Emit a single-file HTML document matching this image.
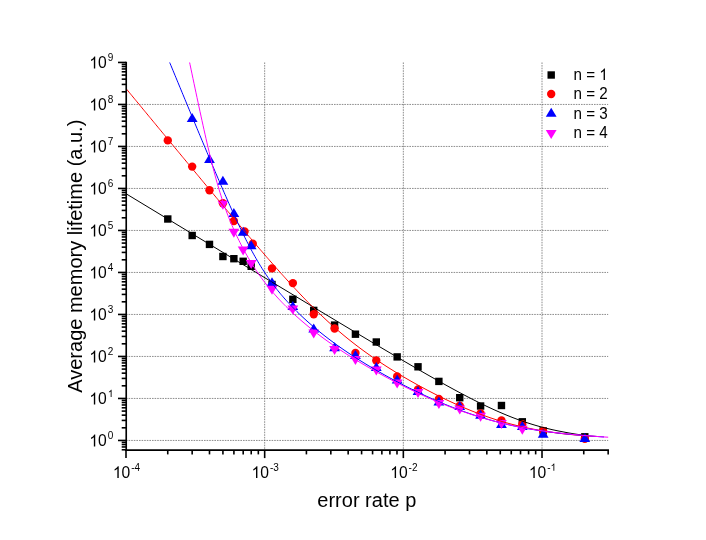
<!DOCTYPE html>
<html><head><meta charset="utf-8"><title>chart</title>
<style>html,body{margin:0;padding:0;background:#fff;width:706px;height:540px;overflow:hidden}body{position:relative;font-family:"Liberation Sans",sans-serif}</style></head>
<body>
<svg width="706" height="540" viewBox="0 0 706 540" style="position:absolute;left:0;top:0;will-change:transform">
<rect width="706" height="540" fill="#fff"/>
<g stroke="#505050" stroke-width="0.65" stroke-dasharray="1.6 1.0" fill="none">
<line x1="126.00" y1="440.45" x2="608.17" y2="440.45"/>
<line x1="126.00" y1="398.45" x2="608.17" y2="398.45"/>
<line x1="126.00" y1="356.45" x2="608.17" y2="356.45"/>
<line x1="126.00" y1="314.45" x2="608.17" y2="314.45"/>
<line x1="126.00" y1="272.45" x2="608.17" y2="272.45"/>
<line x1="126.00" y1="230.45" x2="608.17" y2="230.45"/>
<line x1="126.00" y1="188.45" x2="608.17" y2="188.45"/>
<line x1="126.00" y1="146.45" x2="608.17" y2="146.45"/>
<line x1="126.00" y1="104.45" x2="608.17" y2="104.45"/>
<line x1="264.67" y1="62.45" x2="264.67" y2="450.10"/>
<line x1="403.34" y1="62.45" x2="403.34" y2="450.10"/>
<line x1="542.01" y1="62.45" x2="542.01" y2="450.10"/>
</g>
<rect x="164.09" y="215.30" width="7.4" height="7.4" fill="#000"/>
<rect x="188.48" y="231.80" width="7.4" height="7.4" fill="#000"/>
<rect x="205.79" y="240.70" width="7.4" height="7.4" fill="#000"/>
<rect x="219.21" y="252.80" width="7.4" height="7.4" fill="#000"/>
<rect x="230.17" y="255.00" width="7.4" height="7.4" fill="#000"/>
<rect x="239.45" y="257.60" width="7.4" height="7.4" fill="#000"/>
<rect x="247.48" y="262.60" width="7.4" height="7.4" fill="#000"/>
<rect x="268.30" y="280.80" width="7.4" height="7.4" fill="#000"/>
<rect x="289.16" y="295.60" width="7.4" height="7.4" fill="#000"/>
<rect x="310.02" y="306.70" width="7.4" height="7.4" fill="#000"/>
<rect x="330.88" y="321.40" width="7.4" height="7.4" fill="#000"/>
<rect x="351.74" y="330.50" width="7.4" height="7.4" fill="#000"/>
<rect x="372.60" y="338.30" width="7.4" height="7.4" fill="#000"/>
<rect x="393.46" y="353.20" width="7.4" height="7.4" fill="#000"/>
<rect x="414.32" y="363.10" width="7.4" height="7.4" fill="#000"/>
<rect x="435.18" y="377.70" width="7.4" height="7.4" fill="#000"/>
<rect x="456.04" y="394.00" width="7.4" height="7.4" fill="#000"/>
<rect x="476.90" y="402.30" width="7.4" height="7.4" fill="#000"/>
<rect x="497.76" y="401.80" width="7.4" height="7.4" fill="#000"/>
<rect x="518.62" y="418.10" width="7.4" height="7.4" fill="#000"/>
<rect x="539.48" y="427.20" width="7.4" height="7.4" fill="#000"/>
<rect x="581.10" y="433.10" width="7.4" height="7.4" fill="#000"/>
<circle cx="167.79" cy="140.40" r="4.2" fill="#f00"/>
<circle cx="192.18" cy="166.60" r="4.2" fill="#f00"/>
<circle cx="209.49" cy="190.20" r="4.2" fill="#f00"/>
<circle cx="222.91" cy="203.20" r="4.2" fill="#f00"/>
<circle cx="233.87" cy="221.00" r="4.2" fill="#f00"/>
<circle cx="244.55" cy="231.50" r="4.2" fill="#f00"/>
<circle cx="252.78" cy="243.80" r="4.2" fill="#f00"/>
<circle cx="272.00" cy="268.40" r="4.2" fill="#f00"/>
<circle cx="292.86" cy="283.10" r="4.2" fill="#f00"/>
<circle cx="313.72" cy="314.20" r="4.2" fill="#f00"/>
<circle cx="334.58" cy="328.50" r="4.2" fill="#f00"/>
<circle cx="355.44" cy="353.00" r="4.2" fill="#f00"/>
<circle cx="376.30" cy="360.50" r="4.2" fill="#f00"/>
<circle cx="397.16" cy="376.50" r="4.2" fill="#f00"/>
<circle cx="418.02" cy="389.40" r="4.2" fill="#f00"/>
<circle cx="438.88" cy="398.90" r="4.2" fill="#f00"/>
<circle cx="459.74" cy="405.80" r="4.2" fill="#f00"/>
<circle cx="480.60" cy="413.50" r="4.2" fill="#f00"/>
<circle cx="501.46" cy="420.40" r="4.2" fill="#f00"/>
<circle cx="522.32" cy="424.10" r="4.2" fill="#f00"/>
<circle cx="543.18" cy="430.90" r="4.2" fill="#f00"/>
<circle cx="584.80" cy="438.70" r="4.2" fill="#f00"/>
<path d="M192.18,112.90 L197.58,121.90 L186.78,121.90Z" fill="#00f"/>
<path d="M209.49,153.90 L214.89,162.90 L204.09,162.90Z" fill="#00f"/>
<path d="M222.91,175.70 L228.31,184.70 L217.51,184.70Z" fill="#00f"/>
<path d="M233.87,208.10 L239.27,217.10 L228.47,217.10Z" fill="#00f"/>
<path d="M243.15,226.70 L248.55,235.70 L237.75,235.70Z" fill="#00f"/>
<path d="M251.18,240.30 L256.58,249.30 L245.78,249.30Z" fill="#00f"/>
<path d="M272.00,277.20 L277.40,286.20 L266.60,286.20Z" fill="#00f"/>
<path d="M292.86,300.90 L298.26,309.90 L287.46,309.90Z" fill="#00f"/>
<path d="M313.72,323.50 L319.12,332.50 L308.32,332.50Z" fill="#00f"/>
<path d="M334.58,342.20 L339.98,351.20 L329.18,351.20Z" fill="#00f"/>
<path d="M355.44,350.10 L360.84,359.10 L350.04,359.10Z" fill="#00f"/>
<path d="M376.30,362.00 L381.70,371.00 L370.90,371.00Z" fill="#00f"/>
<path d="M397.16,374.40 L402.56,383.40 L391.76,383.40Z" fill="#00f"/>
<path d="M418.02,385.90 L423.42,394.90 L412.62,394.90Z" fill="#00f"/>
<path d="M438.88,396.50 L444.28,405.50 L433.48,405.50Z" fill="#00f"/>
<path d="M459.74,401.10 L465.14,410.10 L454.34,410.10Z" fill="#00f"/>
<path d="M480.60,409.80 L486.00,418.80 L475.20,418.80Z" fill="#00f"/>
<path d="M501.46,418.90 L506.86,427.90 L496.06,427.90Z" fill="#00f"/>
<path d="M522.32,421.00 L527.72,430.00 L516.92,430.00Z" fill="#00f"/>
<path d="M543.18,428.70 L548.58,437.70 L537.78,437.70Z" fill="#00f"/>
<path d="M584.80,432.90 L590.20,441.90 L579.40,441.90Z" fill="#00f"/>
<path d="M222.91,209.70 L228.31,200.70 L217.51,200.70Z" fill="#f0f"/>
<path d="M233.87,237.70 L239.27,228.70 L228.47,228.70Z" fill="#f0f"/>
<path d="M243.15,255.40 L248.55,246.40 L237.75,246.40Z" fill="#f0f"/>
<path d="M251.18,269.10 L256.58,260.10 L245.78,260.10Z" fill="#f0f"/>
<path d="M272.00,294.80 L277.40,285.80 L266.60,285.80Z" fill="#f0f"/>
<path d="M292.86,314.50 L298.26,305.50 L287.46,305.50Z" fill="#f0f"/>
<path d="M313.72,338.50 L319.12,329.50 L308.32,329.50Z" fill="#f0f"/>
<path d="M334.58,354.90 L339.98,345.90 L329.18,345.90Z" fill="#f0f"/>
<path d="M355.44,364.90 L360.84,355.90 L350.04,355.90Z" fill="#f0f"/>
<path d="M376.30,375.60 L381.70,366.60 L370.90,366.60Z" fill="#f0f"/>
<path d="M397.16,388.50 L402.56,379.50 L391.76,379.50Z" fill="#f0f"/>
<path d="M418.02,398.00 L423.42,389.00 L412.62,389.00Z" fill="#f0f"/>
<path d="M438.88,408.90 L444.28,399.90 L433.48,399.90Z" fill="#f0f"/>
<path d="M459.74,414.50 L465.14,405.50 L454.34,405.50Z" fill="#f0f"/>
<path d="M480.60,421.70 L486.00,412.70 L475.20,412.70Z" fill="#f0f"/>
<path d="M501.46,428.90 L506.86,419.90 L496.06,419.90Z" fill="#f0f"/>
<path d="M522.32,434.70 L527.72,425.70 L516.92,425.70Z" fill="#f0f"/>
<clipPath id="c"><rect x="126.00" y="62.45" width="482.17" height="387.65"/></clipPath>
<g fill="none" stroke-width="1.0" clip-path="url(#c)">
<path d="M125.00,193.10 L126.00,193.70 L127.00,194.31 L128.00,194.92 L129.00,195.52 L130.00,196.13 L131.00,196.73 L132.00,197.34 L133.00,197.94 L134.00,198.55 L135.00,199.16 L136.00,199.76 L137.00,200.37 L138.00,200.97 L139.00,201.58 L140.00,202.18 L141.00,202.79 L142.00,203.40 L143.00,204.00 L144.00,204.61 L145.00,205.21 L146.00,205.82 L147.00,206.43 L148.00,207.03 L149.00,207.64 L150.00,208.24 L151.00,208.85 L152.00,209.45 L153.00,210.06 L154.00,210.67 L155.00,211.27 L156.00,211.88 L157.00,212.48 L158.00,213.09 L159.00,213.69 L160.00,214.30 L161.00,214.91 L162.00,215.51 L163.00,216.12 L164.00,216.72 L165.00,217.33 L166.00,217.93 L167.00,218.54 L168.00,219.14 L169.00,219.75 L170.00,220.36 L171.00,220.96 L172.00,221.57 L173.00,222.17 L174.00,222.78 L175.00,223.38 L176.00,223.99 L177.00,224.60 L178.00,225.20 L179.00,225.81 L180.00,226.41 L181.00,227.02 L182.00,227.62 L183.00,228.23 L184.00,228.83 L185.00,229.44 L186.00,230.05 L187.00,230.65 L188.00,231.26 L189.00,231.86 L190.00,232.47 L191.00,233.07 L192.00,233.68 L193.00,234.28 L194.00,234.89 L195.00,235.50 L196.00,236.10 L197.00,236.71 L198.00,237.31 L199.00,237.92 L200.00,238.52 L201.00,239.13 L202.00,239.73 L203.00,240.34 L204.00,240.94 L205.00,241.55 L206.00,242.16 L207.00,242.76 L208.00,243.37 L209.00,243.97 L210.00,244.58 L211.00,245.18 L212.00,245.79 L213.00,246.39 L214.00,247.00 L215.00,247.60 L216.00,248.21 L217.00,248.81 L218.00,249.42 L219.00,250.03 L220.00,250.63 L221.00,251.24 L222.00,251.84 L223.00,252.45 L224.00,253.05 L225.00,253.66 L226.00,254.26 L227.00,254.87 L228.00,255.47 L229.00,256.08 L230.00,256.68 L231.00,257.29 L232.00,257.89 L233.00,258.50 L234.00,259.10 L235.00,259.71 L236.00,260.31 L237.00,260.92 L238.00,261.52 L239.00,262.13 L240.00,262.73 L241.00,263.34 L242.00,263.94 L243.00,264.55 L244.00,265.15 L245.00,265.76 L246.00,266.36 L247.00,266.97 L248.00,267.57 L249.00,268.18 L250.00,268.78 L251.00,269.39 L252.00,269.99 L253.00,270.60 L254.00,271.20 L255.00,271.81 L256.00,272.41 L257.00,273.02 L258.00,273.62 L259.00,274.23 L260.00,274.83 L261.00,275.44 L262.00,276.04 L263.00,276.64 L264.00,277.25 L265.00,277.85 L266.00,278.46 L267.00,279.06 L268.00,279.67 L269.00,280.27 L270.00,280.88 L271.00,281.48 L272.00,282.08 L273.00,282.69 L274.00,283.29 L275.00,283.90 L276.00,284.50 L277.00,285.11 L278.00,285.71 L279.00,286.31 L280.00,286.92 L281.00,287.52 L282.00,288.13 L283.00,288.73 L284.00,289.33 L285.00,289.94 L286.00,290.54 L287.00,291.15 L288.00,291.75 L289.00,292.35 L290.00,292.96 L291.00,293.56 L292.00,294.16 L293.00,294.77 L294.00,295.37 L295.00,295.98 L296.00,296.58 L297.00,297.18 L298.00,297.79 L299.00,298.39 L300.00,298.99 L301.00,299.60 L302.00,300.20 L303.00,300.80 L304.00,301.41 L305.00,302.01 L306.00,302.61 L307.00,303.21 L308.00,303.82 L309.00,304.42 L310.00,305.02 L311.00,305.63 L312.00,306.23 L313.00,306.83 L314.00,307.43 L315.00,308.04 L316.00,308.64 L317.00,309.24 L318.00,309.84 L319.00,310.45 L320.00,311.05 L321.00,311.65 L322.00,312.25 L323.00,312.85 L324.00,313.46 L325.00,314.06 L326.00,314.66 L327.00,315.26 L328.00,315.86 L329.00,316.47 L330.00,317.07 L331.00,317.67 L332.00,318.27 L333.00,318.87 L334.00,319.47 L335.00,320.07 L336.00,320.67 L337.00,321.27 L338.00,321.87 L339.00,322.48 L340.00,323.08 L341.00,323.68 L342.00,324.28 L343.00,324.88 L344.00,325.48 L345.00,326.08 L346.00,326.68 L347.00,327.28 L348.00,327.88 L349.00,328.48 L350.00,329.07 L351.00,329.67 L352.00,330.27 L353.00,330.87 L354.00,331.47 L355.00,332.07 L356.00,332.67 L357.00,333.27 L358.00,333.86 L359.00,334.46 L360.00,335.06 L361.00,335.66 L362.00,336.26 L363.00,336.85 L364.00,337.45 L365.00,338.05 L366.00,338.64 L367.00,339.24 L368.00,339.84 L369.00,340.43 L370.00,341.03 L371.00,341.63 L372.00,342.22 L373.00,342.82 L374.00,343.41 L375.00,344.01 L376.00,344.60 L377.00,345.20 L378.00,345.79 L379.00,346.38 L380.00,346.98 L381.00,347.57 L382.00,348.17 L383.00,348.76 L384.00,349.35 L385.00,349.94 L386.00,350.54 L387.00,351.13 L388.00,351.72 L389.00,352.31 L390.00,352.90 L391.00,353.49 L392.00,354.08 L393.00,354.67 L394.00,355.26 L395.00,355.85 L396.00,356.44 L397.00,357.03 L398.00,357.62 L399.00,358.21 L400.00,358.79 L401.00,359.38 L402.00,359.97 L403.00,360.55 L404.00,361.14 L405.00,361.72 L406.00,362.31 L407.00,362.89 L408.00,363.48 L409.00,364.06 L410.00,364.64 L411.00,365.23 L412.00,365.81 L413.00,366.39 L414.00,366.97 L415.00,367.55 L416.00,368.13 L417.00,368.71 L418.00,369.29 L419.00,369.86 L420.00,370.44 L421.00,371.02 L422.00,371.59 L423.00,372.17 L424.00,372.74 L425.00,373.32 L426.00,373.89 L427.00,374.46 L428.00,375.03 L429.00,375.60 L430.00,376.17 L431.00,376.74 L432.00,377.31 L433.00,377.88 L434.00,378.44 L435.00,379.01 L436.00,379.57 L437.00,380.14 L438.00,380.70 L439.00,381.26 L440.00,381.82 L441.00,382.38 L442.00,382.94 L443.00,383.50 L444.00,384.05 L445.00,384.61 L446.00,385.16 L447.00,385.72 L448.00,386.27 L449.00,386.82 L450.00,387.37 L451.00,387.91 L452.00,388.46 L453.00,389.01 L454.00,389.55 L455.00,390.09 L456.00,390.63 L457.00,391.17 L458.00,391.71 L459.00,392.24 L460.00,392.78 L461.00,393.31 L462.00,393.84 L463.00,394.37 L464.00,394.90 L465.00,395.42 L466.00,395.95 L467.00,396.47 L468.00,396.99 L469.00,397.51 L470.00,398.02 L471.00,398.54 L472.00,399.05 L473.00,399.56 L474.00,400.07 L475.00,400.57 L476.00,401.07 L477.00,401.57 L478.00,402.07 L479.00,402.57 L480.00,403.06 L481.00,403.55 L482.00,404.04 L483.00,404.53 L484.00,405.01 L485.00,405.49 L486.00,405.97 L487.00,406.45 L488.00,406.92 L489.00,407.39 L490.00,407.85 L491.00,408.32 L492.00,408.78 L493.00,409.24 L494.00,409.69 L495.00,410.14 L496.00,410.59 L497.00,411.04 L498.00,411.48 L499.00,411.92 L500.00,412.35 L501.00,412.78 L502.00,413.21 L503.00,413.64 L504.00,414.06 L505.00,414.48 L506.00,414.89 L507.00,415.30 L508.00,415.71 L509.00,416.11 L510.00,416.51 L511.00,416.91 L512.00,417.30 L513.00,417.69 L514.00,418.07 L515.00,418.45 L516.00,418.83 L517.00,419.20 L518.00,419.57 L519.00,419.93 L520.00,420.29 L521.00,420.65 L522.00,421.00 L523.00,421.35 L524.00,421.69 L525.00,422.03 L526.00,422.36 L527.00,422.69 L528.00,423.02 L529.00,423.34 L530.00,423.66 L531.00,423.98 L532.00,424.29 L533.00,424.59 L534.00,424.89 L535.00,425.19 L536.00,425.48 L537.00,425.77 L538.00,426.06 L539.00,426.34 L540.00,426.61 L541.00,426.88 L542.00,427.15 L543.00,427.42 L544.00,427.68 L545.00,427.93 L546.00,428.18 L547.00,428.43 L548.00,428.67 L549.00,428.91 L550.00,429.14 L551.00,429.38 L552.00,429.60 L553.00,429.83 L554.00,430.04 L555.00,430.26 L556.00,430.47 L557.00,430.68 L558.00,430.88 L559.00,431.08 L560.00,431.28 L561.00,431.47 L562.00,431.67 L563.00,431.86 L564.00,432.05 L565.00,432.25 L566.00,432.44 L567.00,432.62 L568.00,432.81 L569.00,432.99 L570.00,433.17 L571.00,433.34 L572.00,433.51 L573.00,433.68 L574.00,433.84 L575.00,434.00 L576.00,434.15 L577.00,434.30 L578.00,434.45 L579.00,434.59 L580.00,434.73 L581.00,434.86 L582.00,434.99 L583.00,435.12 L584.00,435.24 L585.00,435.35 L586.00,435.47 L587.00,435.57 L588.00,435.68" stroke="#000"/>
<path d="M125.00,87.30 L126.00,88.51 L127.00,89.72 L128.00,90.93 L129.00,92.14 L130.00,93.35 L131.00,94.57 L132.00,95.78 L133.00,96.99 L134.00,98.20 L135.00,99.41 L136.00,100.62 L137.00,101.83 L138.00,103.04 L139.00,104.25 L140.00,105.46 L141.00,106.67 L142.00,107.89 L143.00,109.10 L144.00,110.31 L145.00,111.52 L146.00,112.73 L147.00,113.94 L148.00,115.15 L149.00,116.36 L150.00,117.57 L151.00,118.78 L152.00,119.99 L153.00,121.20 L154.00,122.41 L155.00,123.62 L156.00,124.83 L157.00,126.04 L158.00,127.25 L159.00,128.46 L160.00,129.67 L161.00,130.88 L162.00,132.09 L163.00,133.30 L164.00,134.51 L165.00,135.72 L166.00,136.93 L167.00,138.14 L168.00,139.35 L169.00,140.56 L170.00,141.77 L171.00,142.98 L172.00,144.19 L173.00,145.39 L174.00,146.60 L175.00,147.81 L176.00,149.02 L177.00,150.23 L178.00,151.44 L179.00,152.65 L180.00,153.85 L181.00,155.06 L182.00,156.27 L183.00,157.48 L184.00,158.69 L185.00,159.89 L186.00,161.10 L187.00,162.31 L188.00,163.51 L189.00,164.72 L190.00,165.93 L191.00,167.13 L192.00,168.34 L193.00,169.55 L194.00,170.75 L195.00,171.96 L196.00,173.16 L197.00,174.37 L198.00,175.57 L199.00,176.78 L200.00,177.98 L201.00,179.19 L202.00,180.39 L203.00,181.60 L204.00,182.80 L205.00,184.00 L206.00,185.21 L207.00,186.41 L208.00,187.61 L209.00,188.81 L210.00,190.01 L211.00,191.22 L212.00,192.42 L213.00,193.62 L214.00,194.82 L215.00,196.02 L216.00,197.22 L217.00,198.42 L218.00,199.62 L219.00,200.81 L220.00,202.01 L221.00,203.21 L222.00,204.41 L223.00,205.60 L224.00,206.80 L225.00,207.99 L226.00,209.19 L227.00,210.38 L228.00,211.58 L229.00,212.77 L230.00,213.96 L231.00,215.16 L232.00,216.35 L233.00,217.54 L234.00,218.73 L235.00,219.92 L236.00,221.10 L237.00,222.29 L238.00,223.48 L239.00,224.66 L240.00,225.85 L241.00,227.03 L242.00,228.22 L243.00,229.40 L244.00,230.58 L245.00,231.76 L246.00,232.94 L247.00,234.12 L248.00,235.30 L249.00,236.47 L250.00,237.65 L251.00,238.82 L252.00,240.00 L253.00,241.17 L254.00,242.34 L255.00,243.51 L256.00,244.67 L257.00,245.84 L258.00,247.01 L259.00,248.17 L260.00,249.33 L261.00,250.49 L262.00,251.65 L263.00,252.81 L264.00,253.96 L265.00,255.11 L266.00,256.27 L267.00,257.42 L268.00,258.56 L269.00,259.71 L270.00,260.85 L271.00,261.99 L272.00,263.13 L273.00,264.27 L274.00,265.41 L275.00,266.54 L276.00,267.67 L277.00,268.80 L278.00,269.92 L279.00,271.05 L280.00,272.17 L281.00,273.29 L282.00,274.40 L283.00,275.51 L284.00,276.62 L285.00,277.73 L286.00,278.83 L287.00,279.93 L288.00,281.03 L289.00,282.13 L290.00,283.22 L291.00,284.30 L292.00,285.39 L293.00,286.47 L294.00,287.55 L295.00,288.62 L296.00,289.69 L297.00,290.75 L298.00,291.82 L299.00,292.88 L300.00,293.93 L301.00,294.98 L302.00,296.03 L303.00,297.07 L304.00,298.11 L305.00,299.14 L306.00,300.17 L307.00,301.19 L308.00,302.21 L309.00,303.23 L310.00,304.24 L311.00,305.25 L312.00,306.25 L313.00,307.24 L314.00,308.24 L315.00,309.22 L316.00,310.20 L317.00,311.18 L318.00,312.15 L319.00,313.12 L320.00,314.08 L321.00,315.04 L322.00,315.99 L323.00,316.93 L324.00,317.87 L325.00,318.81 L326.00,319.74 L327.00,320.66 L328.00,321.58 L329.00,322.50 L330.00,323.40 L331.00,324.31 L332.00,325.20 L333.00,326.09 L334.00,326.98 L335.00,327.86 L336.00,328.74 L337.00,329.60 L338.00,330.47 L339.00,331.33 L340.00,332.18 L341.00,333.03 L342.00,333.87 L343.00,334.71 L344.00,335.54 L345.00,336.36 L346.00,337.18 L347.00,338.00 L348.00,338.81 L349.00,339.61 L350.00,340.41 L351.00,341.21 L352.00,341.99 L353.00,342.78 L354.00,343.56 L355.00,344.33 L356.00,345.10 L357.00,345.86 L358.00,346.62 L359.00,347.38 L360.00,348.13 L361.00,348.87 L362.00,349.61 L363.00,350.34 L364.00,351.08 L365.00,351.80 L366.00,352.52 L367.00,353.24 L368.00,353.95 L369.00,354.66 L370.00,355.37 L371.00,356.07 L372.00,356.76 L373.00,357.45 L374.00,358.14 L375.00,358.83 L376.00,359.51 L377.00,360.18 L378.00,360.85 L379.00,361.52 L380.00,362.19 L381.00,362.85 L382.00,363.51 L383.00,364.16 L384.00,364.81 L385.00,365.46 L386.00,366.10 L387.00,366.74 L388.00,367.38 L389.00,368.01 L390.00,368.64 L391.00,369.27 L392.00,369.89 L393.00,370.51 L394.00,371.13 L395.00,371.75 L396.00,372.36 L397.00,372.97 L398.00,373.57 L399.00,374.18 L400.00,374.78 L401.00,375.38 L402.00,375.97 L403.00,376.56 L404.00,377.15 L405.00,377.74 L406.00,378.32 L407.00,378.90 L408.00,379.48 L409.00,380.06 L410.00,380.63 L411.00,381.20 L412.00,381.77 L413.00,382.33 L414.00,382.89 L415.00,383.45 L416.00,384.01 L417.00,384.57 L418.00,385.12 L419.00,385.67 L420.00,386.22 L421.00,386.76 L422.00,387.30 L423.00,387.84 L424.00,388.38 L425.00,388.92 L426.00,389.45 L427.00,389.98 L428.00,390.50 L429.00,391.03 L430.00,391.55 L431.00,392.07 L432.00,392.59 L433.00,393.10 L434.00,393.61 L435.00,394.12 L436.00,394.63 L437.00,395.13 L438.00,395.63 L439.00,396.13 L440.00,396.63 L441.00,397.12 L442.00,397.61 L443.00,398.10 L444.00,398.59 L445.00,399.07 L446.00,399.55 L447.00,400.03 L448.00,400.50 L449.00,400.97 L450.00,401.44 L451.00,401.91 L452.00,402.37 L453.00,402.83 L454.00,403.29 L455.00,403.75 L456.00,404.20 L457.00,404.65 L458.00,405.09 L459.00,405.53 L460.00,405.97 L461.00,406.41 L462.00,406.85 L463.00,407.28 L464.00,407.70 L465.00,408.13 L466.00,408.55 L467.00,408.97 L468.00,409.38 L469.00,409.80 L470.00,410.20 L471.00,410.61 L472.00,411.01 L473.00,411.41 L474.00,411.81 L475.00,412.20 L476.00,412.59 L477.00,412.97 L478.00,413.36 L479.00,413.74 L480.00,414.11 L481.00,414.48 L482.00,414.85 L483.00,415.22 L484.00,415.58 L485.00,415.94 L486.00,416.30 L487.00,416.65 L488.00,417.00 L489.00,417.34 L490.00,417.68 L491.00,418.02 L492.00,418.35 L493.00,418.68 L494.00,419.01 L495.00,419.34 L496.00,419.66 L497.00,419.97 L498.00,420.29 L499.00,420.60 L500.00,420.90 L501.00,421.20 L502.00,421.50 L503.00,421.80 L504.00,422.09 L505.00,422.38 L506.00,422.67 L507.00,422.95 L508.00,423.23 L509.00,423.50 L510.00,423.77 L511.00,424.04 L512.00,424.30 L513.00,424.56 L514.00,424.82 L515.00,425.08 L516.00,425.33 L517.00,425.57 L518.00,425.82 L519.00,426.06 L520.00,426.30 L521.00,426.53 L522.00,426.76 L523.00,426.99 L524.00,427.21 L525.00,427.43 L526.00,427.65 L527.00,427.87 L528.00,428.08 L529.00,428.29 L530.00,428.49 L531.00,428.69 L532.00,428.89 L533.00,429.09 L534.00,429.28 L535.00,429.47 L536.00,429.66 L537.00,429.85 L538.00,430.03 L539.00,430.21 L540.00,430.38 L541.00,430.56 L542.00,430.73 L543.00,430.89 L544.00,431.06 L545.00,431.22 L546.00,431.38 L547.00,431.54 L548.00,431.69 L549.00,431.85 L550.00,431.99 L551.00,432.14 L552.00,432.29 L553.00,432.43 L554.00,432.57 L555.00,432.71 L556.00,432.84 L557.00,432.97 L558.00,433.11 L559.00,433.23 L560.00,433.36 L561.00,433.48 L562.00,433.60 L563.00,433.72 L564.00,433.83 L565.00,433.94 L566.00,434.05 L567.00,434.15 L568.00,434.25 L569.00,434.35 L570.00,434.45 L571.00,434.54 L572.00,434.64 L573.00,434.73 L574.00,434.82 L575.00,434.90 L576.00,434.99 L577.00,435.07 L578.00,435.15 L579.00,435.24 L580.00,435.31 L581.00,435.39 L582.00,435.47 L583.00,435.55 L584.00,435.62 L585.00,435.69 L586.00,435.77 L587.00,435.84 L588.00,435.91 L589.00,435.98 L590.00,436.05 L591.00,436.12 L592.00,436.19 L593.00,436.26 L594.00,436.32 L595.00,436.39 L596.00,436.45 L597.00,436.52" stroke="#f00"/>
<path d="M154.00,24.51 L155.00,26.93 L156.00,29.35 L157.00,31.77 L158.00,34.19 L159.00,36.62 L160.00,39.04 L161.00,41.46 L162.00,43.88 L163.00,46.30 L164.00,48.72 L165.00,51.15 L166.00,53.57 L167.00,55.99 L168.00,58.41 L169.00,60.83 L170.00,63.25 L171.00,65.67 L172.00,68.09 L173.00,70.51 L174.00,72.93 L175.00,75.35 L176.00,77.76 L177.00,80.18 L178.00,82.60 L179.00,85.02 L180.00,87.43 L181.00,89.85 L182.00,92.27 L183.00,94.68 L184.00,97.10 L185.00,99.51 L186.00,101.92 L187.00,104.34 L188.00,106.75 L189.00,109.16 L190.00,111.57 L191.00,113.98 L192.00,116.39 L193.00,118.80 L194.00,121.20 L195.00,123.61 L196.00,126.01 L197.00,128.41 L198.00,130.81 L199.00,133.21 L200.00,135.61 L201.00,138.01 L202.00,140.40 L203.00,142.79 L204.00,145.18 L205.00,147.57 L206.00,149.96 L207.00,152.34 L208.00,154.72 L209.00,157.09 L210.00,159.47 L211.00,161.84 L212.00,164.20 L213.00,166.57 L214.00,168.92 L215.00,171.28 L216.00,173.63 L217.00,175.97 L218.00,178.31 L219.00,180.64 L220.00,182.97 L221.00,185.29 L222.00,187.60 L223.00,189.91 L224.00,192.21 L225.00,194.50 L226.00,196.78 L227.00,199.06 L228.00,201.32 L229.00,203.58 L230.00,205.82 L231.00,208.05 L232.00,210.27 L233.00,212.48 L234.00,214.68 L235.00,216.86 L236.00,219.02 L237.00,221.18 L238.00,223.31 L239.00,225.43 L240.00,227.54 L241.00,229.62 L242.00,231.69 L243.00,233.74 L244.00,235.77 L245.00,237.78 L246.00,239.77 L247.00,241.73 L248.00,243.68 L249.00,245.60 L250.00,247.50 L251.00,249.37 L252.00,251.22 L253.00,253.05 L254.00,254.85 L255.00,256.63 L256.00,258.38 L257.00,260.11 L258.00,261.81 L259.00,263.48 L260.00,265.13 L261.00,266.76 L262.00,268.36 L263.00,269.93 L264.00,271.48 L265.00,273.01 L266.00,274.51 L267.00,275.99 L268.00,277.44 L269.00,278.87 L270.00,280.28 L271.00,281.66 L272.00,283.03 L273.00,284.37 L274.00,285.69 L275.00,287.00 L276.00,288.28 L277.00,289.55 L278.00,290.79 L279.00,292.02 L280.00,293.23 L281.00,294.43 L282.00,295.60 L283.00,296.77 L284.00,297.91 L285.00,299.05 L286.00,300.17 L287.00,301.27 L288.00,302.36 L289.00,303.44 L290.00,304.51 L291.00,305.56 L292.00,306.61 L293.00,307.64 L294.00,308.66 L295.00,309.67 L296.00,310.67 L297.00,311.66 L298.00,312.64 L299.00,313.61 L300.00,314.57 L301.00,315.52 L302.00,316.47 L303.00,317.40 L304.00,318.33 L305.00,319.24 L306.00,320.15 L307.00,321.05 L308.00,321.95 L309.00,322.84 L310.00,323.71 L311.00,324.59 L312.00,325.45 L313.00,326.31 L314.00,327.16 L315.00,328.00 L316.00,328.84 L317.00,329.67 L318.00,330.50 L319.00,331.31 L320.00,332.13 L321.00,332.93 L322.00,333.73 L323.00,334.53 L324.00,335.31 L325.00,336.10 L326.00,336.87 L327.00,337.64 L328.00,338.41 L329.00,339.17 L330.00,339.92 L331.00,340.67 L332.00,341.42 L333.00,342.16 L334.00,342.89 L335.00,343.62 L336.00,344.34 L337.00,345.06 L338.00,345.78 L339.00,346.49 L340.00,347.20 L341.00,347.90 L342.00,348.59 L343.00,349.29 L344.00,349.97 L345.00,350.66 L346.00,351.34 L347.00,352.01 L348.00,352.69 L349.00,353.35 L350.00,354.02 L351.00,354.68 L352.00,355.33 L353.00,355.99 L354.00,356.64 L355.00,357.28 L356.00,357.92 L357.00,358.56 L358.00,359.20 L359.00,359.83 L360.00,360.46 L361.00,361.08 L362.00,361.70 L363.00,362.32 L364.00,362.94 L365.00,363.55 L366.00,364.16 L367.00,364.76 L368.00,365.37 L369.00,365.97 L370.00,366.57 L371.00,367.16 L372.00,367.75 L373.00,368.34 L374.00,368.93 L375.00,369.51 L376.00,370.09 L377.00,370.67 L378.00,371.25 L379.00,371.82 L380.00,372.39 L381.00,372.96 L382.00,373.52 L383.00,374.08 L384.00,374.64 L385.00,375.20 L386.00,375.76 L387.00,376.31 L388.00,376.86 L389.00,377.41 L390.00,377.95 L391.00,378.50 L392.00,379.04 L393.00,379.58 L394.00,380.11 L395.00,380.65 L396.00,381.18 L397.00,381.71 L398.00,382.23 L399.00,382.76 L400.00,383.28 L401.00,383.80 L402.00,384.32 L403.00,384.83 L404.00,385.34 L405.00,385.86 L406.00,386.36 L407.00,386.87 L408.00,387.37 L409.00,387.87 L410.00,388.37 L411.00,388.87 L412.00,389.36 L413.00,389.86 L414.00,390.35 L415.00,390.83 L416.00,391.32 L417.00,391.80 L418.00,392.28 L419.00,392.76 L420.00,393.23 L421.00,393.71 L422.00,394.18 L423.00,394.65 L424.00,395.11 L425.00,395.58 L426.00,396.04 L427.00,396.50 L428.00,396.95 L429.00,397.41 L430.00,397.86 L431.00,398.31 L432.00,398.75 L433.00,399.20 L434.00,399.64 L435.00,400.08 L436.00,400.51 L437.00,400.95 L438.00,401.38 L439.00,401.81 L440.00,402.23 L441.00,402.65 L442.00,403.07 L443.00,403.49 L444.00,403.91 L445.00,404.32 L446.00,404.73 L447.00,405.14 L448.00,405.54 L449.00,405.94 L450.00,406.34 L451.00,406.74 L452.00,407.13 L453.00,407.52 L454.00,407.91 L455.00,408.30 L456.00,408.68 L457.00,409.06 L458.00,409.43 L459.00,409.81 L460.00,410.18 L461.00,410.55 L462.00,410.91 L463.00,411.28 L464.00,411.63 L465.00,411.99 L466.00,412.35 L467.00,412.70 L468.00,413.04 L469.00,413.39 L470.00,413.73 L471.00,414.07 L472.00,414.41 L473.00,414.74 L474.00,415.07 L475.00,415.40 L476.00,415.72 L477.00,416.04 L478.00,416.36 L479.00,416.68 L480.00,416.99 L481.00,417.30 L482.00,417.61 L483.00,417.91 L484.00,418.21 L485.00,418.51 L486.00,418.81 L487.00,419.10 L488.00,419.39 L489.00,419.67 L490.00,419.96 L491.00,420.24 L492.00,420.51 L493.00,420.79 L494.00,421.06 L495.00,421.33 L496.00,421.60 L497.00,421.86 L498.00,422.12 L499.00,422.38 L500.00,422.63 L501.00,422.88 L502.00,423.13 L503.00,423.38 L504.00,423.62 L505.00,423.86 L506.00,424.10 L507.00,424.33 L508.00,424.57 L509.00,424.79 L510.00,425.02 L511.00,425.24 L512.00,425.47 L513.00,425.68 L514.00,425.90 L515.00,426.11 L516.00,426.32 L517.00,426.53 L518.00,426.74 L519.00,426.94 L520.00,427.14 L521.00,427.34 L522.00,427.53 L523.00,427.73 L524.00,427.92 L525.00,428.10 L526.00,428.29 L527.00,428.47 L528.00,428.65 L529.00,428.83 L530.00,429.00 L531.00,429.18 L532.00,429.35 L533.00,429.52 L534.00,429.68 L535.00,429.85 L536.00,430.01 L537.00,430.17 L538.00,430.33 L539.00,430.48 L540.00,430.64 L541.00,430.79 L542.00,430.93 L543.00,431.08 L544.00,431.23 L545.00,431.37 L546.00,431.51 L547.00,431.65 L548.00,431.78 L549.00,431.92 L550.00,432.05 L551.00,432.18 L552.00,432.31 L553.00,432.44 L554.00,432.56 L555.00,432.69 L556.00,432.81 L557.00,432.93 L558.00,433.05 L559.00,433.16 L560.00,433.28 L561.00,433.39 L562.00,433.50 L563.00,433.60 L564.00,433.71 L565.00,433.81 L566.00,433.91 L567.00,434.01 L568.00,434.11 L569.00,434.20 L570.00,434.29 L571.00,434.39 L572.00,434.48 L573.00,434.57 L574.00,434.66 L575.00,434.75 L576.00,434.83 L577.00,434.92 L578.00,435.00 L579.00,435.09 L580.00,435.17 L581.00,435.26 L582.00,435.34 L583.00,435.42 L584.00,435.50 L585.00,435.58 L586.00,435.66 L587.00,435.74 L588.00,435.82 L589.00,435.90 L590.00,435.98 L591.00,436.05 L592.00,436.13 L593.00,436.20 L594.00,436.28 L595.00,436.35 L596.00,436.42 L597.00,436.49 L598.00,436.56 L599.00,436.63 L600.00,436.70 L601.00,436.76 L602.00,436.83 L603.00,436.89 L604.00,436.96" stroke="#00f"/>
<path d="M182.00,25.86 L183.00,30.69 L184.00,35.51 L185.00,40.32 L186.00,45.14 L187.00,49.94 L188.00,54.75 L189.00,59.54 L190.00,64.33 L191.00,69.11 L192.00,73.88 L193.00,78.64 L194.00,83.39 L195.00,88.12 L196.00,92.84 L197.00,97.54 L198.00,102.22 L199.00,106.88 L200.00,111.51 L201.00,116.11 L202.00,120.69 L203.00,125.22 L204.00,129.72 L205.00,134.17 L206.00,138.58 L207.00,142.93 L208.00,147.22 L209.00,151.45 L210.00,155.61 L211.00,159.70 L212.00,163.71 L213.00,167.64 L214.00,171.48 L215.00,175.24 L216.00,178.90 L217.00,182.47 L218.00,185.94 L219.00,189.31 L220.00,192.59 L221.00,195.78 L222.00,198.87 L223.00,201.87 L224.00,204.79 L225.00,207.62 L226.00,210.37 L227.00,213.04 L228.00,215.65 L229.00,218.18 L230.00,220.66 L231.00,223.07 L232.00,225.42 L233.00,227.72 L234.00,229.98 L235.00,232.18 L236.00,234.34 L237.00,236.45 L238.00,238.53 L239.00,240.56 L240.00,242.56 L241.00,244.52 L242.00,246.45 L243.00,248.34 L244.00,250.20 L245.00,252.03 L246.00,253.82 L247.00,255.59 L248.00,257.32 L249.00,259.03 L250.00,260.70 L251.00,262.35 L252.00,263.97 L253.00,265.56 L254.00,267.13 L255.00,268.67 L256.00,270.18 L257.00,271.67 L258.00,273.14 L259.00,274.58 L260.00,275.99 L261.00,277.38 L262.00,278.76 L263.00,280.10 L264.00,281.43 L265.00,282.74 L266.00,284.03 L267.00,285.30 L268.00,286.55 L269.00,287.78 L270.00,288.99 L271.00,290.19 L272.00,291.37 L273.00,292.53 L274.00,293.68 L275.00,294.82 L276.00,295.94 L277.00,297.04 L278.00,298.14 L279.00,299.22 L280.00,300.28 L281.00,301.34 L282.00,302.38 L283.00,303.41 L284.00,304.43 L285.00,305.44 L286.00,306.44 L287.00,307.43 L288.00,308.41 L289.00,309.38 L290.00,310.34 L291.00,311.29 L292.00,312.23 L293.00,313.17 L294.00,314.09 L295.00,315.01 L296.00,315.92 L297.00,316.82 L298.00,317.71 L299.00,318.59 L300.00,319.47 L301.00,320.34 L302.00,321.21 L303.00,322.06 L304.00,322.91 L305.00,323.76 L306.00,324.59 L307.00,325.42 L308.00,326.25 L309.00,327.06 L310.00,327.87 L311.00,328.68 L312.00,329.48 L313.00,330.27 L314.00,331.06 L315.00,331.84 L316.00,332.62 L317.00,333.39 L318.00,334.15 L319.00,334.91 L320.00,335.67 L321.00,336.42 L322.00,337.16 L323.00,337.90 L324.00,338.63 L325.00,339.36 L326.00,340.09 L327.00,340.81 L328.00,341.52 L329.00,342.23 L330.00,342.94 L331.00,343.64 L332.00,344.34 L333.00,345.03 L334.00,345.72 L335.00,346.40 L336.00,347.08 L337.00,347.76 L338.00,348.43 L339.00,349.10 L340.00,349.77 L341.00,350.43 L342.00,351.09 L343.00,351.74 L344.00,352.39 L345.00,353.04 L346.00,353.68 L347.00,354.32 L348.00,354.96 L349.00,355.59 L350.00,356.22 L351.00,356.85 L352.00,357.47 L353.00,358.09 L354.00,358.71 L355.00,359.33 L356.00,359.94 L357.00,360.55 L358.00,361.15 L359.00,361.76 L360.00,362.36 L361.00,362.96 L362.00,363.55 L363.00,364.14 L364.00,364.73 L365.00,365.32 L366.00,365.90 L367.00,366.49 L368.00,367.06 L369.00,367.64 L370.00,368.22 L371.00,368.79 L372.00,369.36 L373.00,369.92 L374.00,370.49 L375.00,371.05 L376.00,371.61 L377.00,372.17 L378.00,372.72 L379.00,373.28 L380.00,373.83 L381.00,374.38 L382.00,374.92 L383.00,375.47 L384.00,376.01 L385.00,376.55 L386.00,377.08 L387.00,377.62 L388.00,378.15 L389.00,378.68 L390.00,379.21 L391.00,379.74 L392.00,380.26 L393.00,380.78 L394.00,381.30 L395.00,381.82 L396.00,382.34 L397.00,382.85 L398.00,383.36 L399.00,383.87 L400.00,384.38 L401.00,384.88 L402.00,385.38 L403.00,385.88 L404.00,386.38 L405.00,386.88 L406.00,387.37 L407.00,387.86 L408.00,388.35 L409.00,388.84 L410.00,389.32 L411.00,389.81 L412.00,390.29 L413.00,390.77 L414.00,391.24 L415.00,391.72 L416.00,392.19 L417.00,392.66 L418.00,393.12 L419.00,393.59 L420.00,394.05 L421.00,394.51 L422.00,394.97 L423.00,395.42 L424.00,395.88 L425.00,396.33 L426.00,396.78 L427.00,397.22 L428.00,397.67 L429.00,398.11 L430.00,398.55 L431.00,398.98 L432.00,399.42 L433.00,399.85 L434.00,400.28 L435.00,400.70 L436.00,401.13 L437.00,401.55 L438.00,401.97 L439.00,402.38 L440.00,402.80 L441.00,403.21 L442.00,403.62 L443.00,404.02 L444.00,404.43 L445.00,404.83 L446.00,405.23 L447.00,405.62 L448.00,406.02 L449.00,406.41 L450.00,406.79 L451.00,407.18 L452.00,407.56 L453.00,407.94 L454.00,408.32 L455.00,408.69 L456.00,409.07 L457.00,409.43 L458.00,409.80 L459.00,410.16 L460.00,410.52 L461.00,410.88 L462.00,411.24 L463.00,411.59 L464.00,411.94 L465.00,412.29 L466.00,412.63 L467.00,412.97 L468.00,413.31 L469.00,413.65 L470.00,413.98 L471.00,414.31 L472.00,414.63 L473.00,414.96 L474.00,415.28 L475.00,415.60 L476.00,415.92 L477.00,416.23 L478.00,416.54 L479.00,416.85 L480.00,417.15 L481.00,417.45 L482.00,417.75 L483.00,418.05 L484.00,418.34 L485.00,418.63 L486.00,418.92 L487.00,419.20 L488.00,419.48 L489.00,419.76 L490.00,420.04 L491.00,420.31 L492.00,420.58 L493.00,420.85 L494.00,421.12 L495.00,421.38 L496.00,421.64 L497.00,421.90 L498.00,422.15 L499.00,422.40 L500.00,422.65 L501.00,422.90 L502.00,423.14 L503.00,423.38 L504.00,423.62 L505.00,423.85 L506.00,424.08 L507.00,424.31 L508.00,424.54 L509.00,424.77 L510.00,424.99 L511.00,425.21 L512.00,425.43 L513.00,425.64 L514.00,425.85 L515.00,426.06 L516.00,426.27 L517.00,426.47 L518.00,426.67 L519.00,426.87 L520.00,427.07 L521.00,427.26 L522.00,427.46 L523.00,427.65 L524.00,427.83 L525.00,428.02 L526.00,428.20 L527.00,428.38 L528.00,428.56 L529.00,428.73 L530.00,428.91 L531.00,429.08 L532.00,429.25 L533.00,429.41 L534.00,429.58 L535.00,429.74 L536.00,429.90 L537.00,430.06 L538.00,430.21 L539.00,430.37 L540.00,430.52 L541.00,430.67 L542.00,430.82 L543.00,430.96 L544.00,431.11 L545.00,431.25 L546.00,431.39 L547.00,431.52 L548.00,431.66 L549.00,431.79 L550.00,431.93 L551.00,432.06 L552.00,432.19 L553.00,432.31 L554.00,432.44 L555.00,432.56 L556.00,432.68 L557.00,432.80 L558.00,432.92 L559.00,433.03 L560.00,433.15 L561.00,433.26 L562.00,433.37 L563.00,433.48 L564.00,433.58 L565.00,433.69 L566.00,433.79 L567.00,433.89 L568.00,433.99 L569.00,434.09 L570.00,434.18 L571.00,434.28 L572.00,434.37 L573.00,434.47 L574.00,434.56 L575.00,434.65 L576.00,434.74 L577.00,434.83 L578.00,434.92 L579.00,435.01 L580.00,435.10 L581.00,435.19 L582.00,435.28 L583.00,435.36 L584.00,435.45 L585.00,435.53 L586.00,435.62 L587.00,435.70 L588.00,435.78 L589.00,435.86 L590.00,435.94 L591.00,436.02 L592.00,436.10 L593.00,436.18 L594.00,436.26 L595.00,436.33 L596.00,436.41 L597.00,436.48 L598.00,436.55 L599.00,436.62 L600.00,436.69 L601.00,436.76 L602.00,436.83 L603.00,436.89 L604.00,436.96 L605.00,437.02 L606.00,437.08 L607.00,437.14 L608.00,437.20 L609.00,437.25" stroke="#f0f"/>
</g>
<g stroke="#000" fill="none">
<line x1="126.22" y1="61.65" x2="126.22" y2="451.00" stroke-width="1.65"/>
<line x1="125.10" y1="450.10" x2="608.97" y2="450.10" stroke-width="1.8"/>
<g stroke-width="1.6">
<line x1="121.70" y1="449.77" x2="126.00" y2="449.77"/>
<line x1="121.70" y1="446.96" x2="126.00" y2="446.96"/>
<line x1="121.70" y1="444.52" x2="126.00" y2="444.52"/>
<line x1="121.70" y1="442.37" x2="126.00" y2="442.37"/>
<line x1="118.00" y1="440.45" x2="126.00" y2="440.45"/>
<line x1="121.70" y1="427.81" x2="126.00" y2="427.81"/>
<line x1="121.70" y1="420.41" x2="126.00" y2="420.41"/>
<line x1="121.70" y1="415.16" x2="126.00" y2="415.16"/>
<line x1="121.70" y1="411.09" x2="126.00" y2="411.09"/>
<line x1="121.70" y1="407.77" x2="126.00" y2="407.77"/>
<line x1="121.70" y1="404.96" x2="126.00" y2="404.96"/>
<line x1="121.70" y1="402.52" x2="126.00" y2="402.52"/>
<line x1="121.70" y1="400.37" x2="126.00" y2="400.37"/>
<line x1="118.00" y1="398.45" x2="126.00" y2="398.45"/>
<line x1="121.70" y1="385.81" x2="126.00" y2="385.81"/>
<line x1="121.70" y1="378.41" x2="126.00" y2="378.41"/>
<line x1="121.70" y1="373.16" x2="126.00" y2="373.16"/>
<line x1="121.70" y1="369.09" x2="126.00" y2="369.09"/>
<line x1="121.70" y1="365.77" x2="126.00" y2="365.77"/>
<line x1="121.70" y1="362.96" x2="126.00" y2="362.96"/>
<line x1="121.70" y1="360.52" x2="126.00" y2="360.52"/>
<line x1="121.70" y1="358.37" x2="126.00" y2="358.37"/>
<line x1="118.00" y1="356.45" x2="126.00" y2="356.45"/>
<line x1="121.70" y1="343.81" x2="126.00" y2="343.81"/>
<line x1="121.70" y1="336.41" x2="126.00" y2="336.41"/>
<line x1="121.70" y1="331.16" x2="126.00" y2="331.16"/>
<line x1="121.70" y1="327.09" x2="126.00" y2="327.09"/>
<line x1="121.70" y1="323.77" x2="126.00" y2="323.77"/>
<line x1="121.70" y1="320.96" x2="126.00" y2="320.96"/>
<line x1="121.70" y1="318.52" x2="126.00" y2="318.52"/>
<line x1="121.70" y1="316.37" x2="126.00" y2="316.37"/>
<line x1="118.00" y1="314.45" x2="126.00" y2="314.45"/>
<line x1="121.70" y1="301.81" x2="126.00" y2="301.81"/>
<line x1="121.70" y1="294.41" x2="126.00" y2="294.41"/>
<line x1="121.70" y1="289.16" x2="126.00" y2="289.16"/>
<line x1="121.70" y1="285.09" x2="126.00" y2="285.09"/>
<line x1="121.70" y1="281.77" x2="126.00" y2="281.77"/>
<line x1="121.70" y1="278.96" x2="126.00" y2="278.96"/>
<line x1="121.70" y1="276.52" x2="126.00" y2="276.52"/>
<line x1="121.70" y1="274.37" x2="126.00" y2="274.37"/>
<line x1="118.00" y1="272.45" x2="126.00" y2="272.45"/>
<line x1="121.70" y1="259.81" x2="126.00" y2="259.81"/>
<line x1="121.70" y1="252.41" x2="126.00" y2="252.41"/>
<line x1="121.70" y1="247.16" x2="126.00" y2="247.16"/>
<line x1="121.70" y1="243.09" x2="126.00" y2="243.09"/>
<line x1="121.70" y1="239.77" x2="126.00" y2="239.77"/>
<line x1="121.70" y1="236.96" x2="126.00" y2="236.96"/>
<line x1="121.70" y1="234.52" x2="126.00" y2="234.52"/>
<line x1="121.70" y1="232.37" x2="126.00" y2="232.37"/>
<line x1="118.00" y1="230.45" x2="126.00" y2="230.45"/>
<line x1="121.70" y1="217.81" x2="126.00" y2="217.81"/>
<line x1="121.70" y1="210.41" x2="126.00" y2="210.41"/>
<line x1="121.70" y1="205.16" x2="126.00" y2="205.16"/>
<line x1="121.70" y1="201.09" x2="126.00" y2="201.09"/>
<line x1="121.70" y1="197.77" x2="126.00" y2="197.77"/>
<line x1="121.70" y1="194.96" x2="126.00" y2="194.96"/>
<line x1="121.70" y1="192.52" x2="126.00" y2="192.52"/>
<line x1="121.70" y1="190.37" x2="126.00" y2="190.37"/>
<line x1="118.00" y1="188.45" x2="126.00" y2="188.45"/>
<line x1="121.70" y1="175.81" x2="126.00" y2="175.81"/>
<line x1="121.70" y1="168.41" x2="126.00" y2="168.41"/>
<line x1="121.70" y1="163.16" x2="126.00" y2="163.16"/>
<line x1="121.70" y1="159.09" x2="126.00" y2="159.09"/>
<line x1="121.70" y1="155.77" x2="126.00" y2="155.77"/>
<line x1="121.70" y1="152.96" x2="126.00" y2="152.96"/>
<line x1="121.70" y1="150.52" x2="126.00" y2="150.52"/>
<line x1="121.70" y1="148.37" x2="126.00" y2="148.37"/>
<line x1="118.00" y1="146.45" x2="126.00" y2="146.45"/>
<line x1="121.70" y1="133.81" x2="126.00" y2="133.81"/>
<line x1="121.70" y1="126.41" x2="126.00" y2="126.41"/>
<line x1="121.70" y1="121.16" x2="126.00" y2="121.16"/>
<line x1="121.70" y1="117.09" x2="126.00" y2="117.09"/>
<line x1="121.70" y1="113.77" x2="126.00" y2="113.77"/>
<line x1="121.70" y1="110.96" x2="126.00" y2="110.96"/>
<line x1="121.70" y1="108.52" x2="126.00" y2="108.52"/>
<line x1="121.70" y1="106.37" x2="126.00" y2="106.37"/>
<line x1="118.00" y1="104.45" x2="126.00" y2="104.45"/>
<line x1="121.70" y1="91.81" x2="126.00" y2="91.81"/>
<line x1="121.70" y1="84.41" x2="126.00" y2="84.41"/>
<line x1="121.70" y1="79.16" x2="126.00" y2="79.16"/>
<line x1="121.70" y1="75.09" x2="126.00" y2="75.09"/>
<line x1="121.70" y1="71.77" x2="126.00" y2="71.77"/>
<line x1="121.70" y1="68.96" x2="126.00" y2="68.96"/>
<line x1="121.70" y1="66.52" x2="126.00" y2="66.52"/>
<line x1="121.70" y1="64.37" x2="126.00" y2="64.37"/>
<line x1="118.00" y1="62.45" x2="126.00" y2="62.45"/>
<line x1="126.00" y1="450.10" x2="126.00" y2="458.10"/>
<line x1="167.74" y1="450.10" x2="167.74" y2="454.40"/>
<line x1="192.16" y1="450.10" x2="192.16" y2="454.40"/>
<line x1="209.49" y1="450.10" x2="209.49" y2="454.40"/>
<line x1="222.93" y1="450.10" x2="222.93" y2="454.40"/>
<line x1="233.91" y1="450.10" x2="233.91" y2="454.40"/>
<line x1="243.19" y1="450.10" x2="243.19" y2="454.40"/>
<line x1="251.23" y1="450.10" x2="251.23" y2="454.40"/>
<line x1="258.32" y1="450.10" x2="258.32" y2="454.40"/>
<line x1="264.67" y1="450.10" x2="264.67" y2="458.10"/>
<line x1="306.41" y1="450.10" x2="306.41" y2="454.40"/>
<line x1="330.83" y1="450.10" x2="330.83" y2="454.40"/>
<line x1="348.16" y1="450.10" x2="348.16" y2="454.40"/>
<line x1="361.60" y1="450.10" x2="361.60" y2="454.40"/>
<line x1="372.58" y1="450.10" x2="372.58" y2="454.40"/>
<line x1="381.86" y1="450.10" x2="381.86" y2="454.40"/>
<line x1="389.90" y1="450.10" x2="389.90" y2="454.40"/>
<line x1="396.99" y1="450.10" x2="396.99" y2="454.40"/>
<line x1="403.34" y1="450.10" x2="403.34" y2="458.10"/>
<line x1="445.08" y1="450.10" x2="445.08" y2="454.40"/>
<line x1="469.50" y1="450.10" x2="469.50" y2="454.40"/>
<line x1="486.83" y1="450.10" x2="486.83" y2="454.40"/>
<line x1="500.27" y1="450.10" x2="500.27" y2="454.40"/>
<line x1="511.25" y1="450.10" x2="511.25" y2="454.40"/>
<line x1="520.53" y1="450.10" x2="520.53" y2="454.40"/>
<line x1="528.57" y1="450.10" x2="528.57" y2="454.40"/>
<line x1="535.66" y1="450.10" x2="535.66" y2="454.40"/>
<line x1="542.01" y1="450.10" x2="542.01" y2="458.10"/>
<line x1="583.75" y1="450.10" x2="583.75" y2="454.40"/>
<line x1="608.17" y1="450.10" x2="608.17" y2="454.40"/>
</g></g>
<g font-family="Liberation Sans, sans-serif" fill="#000">
<g transform="translate(89.39,446.45) scale(0.95,1)"><path d="M763 0L583 0L583 1147Q518 1085 412.5 1023Q307 961 223 930L223 1104Q374 1175 487 1276Q600 1377 647 1472L763 1472Z" transform="translate(0.00,0.00) scale(0.00806,-0.00806)"/><text x="9.17" y="0" font-size="16.5">0</text></g><text x="107.84" y="439.05" font-size="10">0</text>
<g transform="translate(89.39,404.45) scale(0.95,1)"><path d="M763 0L583 0L583 1147Q518 1085 412.5 1023Q307 961 223 930L223 1104Q374 1175 487 1276Q600 1377 647 1472L763 1472Z" transform="translate(0.00,0.00) scale(0.00806,-0.00806)"/><text x="9.17" y="0" font-size="16.5">0</text></g><path d="M763 0L583 0L583 1147Q518 1085 412.5 1023Q307 961 223 930L223 1104Q374 1175 487 1276Q600 1377 647 1472L763 1472Z" transform="translate(107.84,397.05) scale(0.00488,-0.00488)"/>
<g transform="translate(89.39,362.45) scale(0.95,1)"><path d="M763 0L583 0L583 1147Q518 1085 412.5 1023Q307 961 223 930L223 1104Q374 1175 487 1276Q600 1377 647 1472L763 1472Z" transform="translate(0.00,0.00) scale(0.00806,-0.00806)"/><text x="9.17" y="0" font-size="16.5">0</text></g><text x="107.84" y="355.05" font-size="10">2</text>
<g transform="translate(89.39,320.45) scale(0.95,1)"><path d="M763 0L583 0L583 1147Q518 1085 412.5 1023Q307 961 223 930L223 1104Q374 1175 487 1276Q600 1377 647 1472L763 1472Z" transform="translate(0.00,0.00) scale(0.00806,-0.00806)"/><text x="9.17" y="0" font-size="16.5">0</text></g><text x="107.84" y="313.05" font-size="10">3</text>
<g transform="translate(89.39,278.45) scale(0.95,1)"><path d="M763 0L583 0L583 1147Q518 1085 412.5 1023Q307 961 223 930L223 1104Q374 1175 487 1276Q600 1377 647 1472L763 1472Z" transform="translate(0.00,0.00) scale(0.00806,-0.00806)"/><text x="9.17" y="0" font-size="16.5">0</text></g><text x="107.84" y="271.05" font-size="10">4</text>
<g transform="translate(89.39,236.45) scale(0.95,1)"><path d="M763 0L583 0L583 1147Q518 1085 412.5 1023Q307 961 223 930L223 1104Q374 1175 487 1276Q600 1377 647 1472L763 1472Z" transform="translate(0.00,0.00) scale(0.00806,-0.00806)"/><text x="9.17" y="0" font-size="16.5">0</text></g><text x="107.84" y="229.05" font-size="10">5</text>
<g transform="translate(89.39,194.45) scale(0.95,1)"><path d="M763 0L583 0L583 1147Q518 1085 412.5 1023Q307 961 223 930L223 1104Q374 1175 487 1276Q600 1377 647 1472L763 1472Z" transform="translate(0.00,0.00) scale(0.00806,-0.00806)"/><text x="9.17" y="0" font-size="16.5">0</text></g><text x="107.84" y="187.05" font-size="10">6</text>
<g transform="translate(89.39,152.45) scale(0.95,1)"><path d="M763 0L583 0L583 1147Q518 1085 412.5 1023Q307 961 223 930L223 1104Q374 1175 487 1276Q600 1377 647 1472L763 1472Z" transform="translate(0.00,0.00) scale(0.00806,-0.00806)"/><text x="9.17" y="0" font-size="16.5">0</text></g><text x="107.84" y="145.05" font-size="10">7</text>
<g transform="translate(89.39,110.45) scale(0.95,1)"><path d="M763 0L583 0L583 1147Q518 1085 412.5 1023Q307 961 223 930L223 1104Q374 1175 487 1276Q600 1377 647 1472L763 1472Z" transform="translate(0.00,0.00) scale(0.00806,-0.00806)"/><text x="9.17" y="0" font-size="16.5">0</text></g><text x="107.84" y="103.05" font-size="10">8</text>
<g transform="translate(89.39,68.45) scale(0.95,1)"><path d="M763 0L583 0L583 1147Q518 1085 412.5 1023Q307 961 223 930L223 1104Q374 1175 487 1276Q600 1377 647 1472L763 1472Z" transform="translate(0.00,0.00) scale(0.00806,-0.00806)"/><text x="9.17" y="0" font-size="16.5">0</text></g><text x="107.84" y="61.05" font-size="10">9</text>
<g transform="translate(112.88,478.10) scale(0.95,1)"><path d="M763 0L583 0L583 1147Q518 1085 412.5 1023Q307 961 223 930L223 1104Q374 1175 487 1276Q600 1377 647 1472L763 1472Z" transform="translate(0.00,0.00) scale(0.00806,-0.00806)"/><text x="9.17" y="0" font-size="16.5">0</text></g><text x="131.23" y="470.70" font-size="10">-4</text>
<g transform="translate(251.55,478.10) scale(0.95,1)"><path d="M763 0L583 0L583 1147Q518 1085 412.5 1023Q307 961 223 930L223 1104Q374 1175 487 1276Q600 1377 647 1472L763 1472Z" transform="translate(0.00,0.00) scale(0.00806,-0.00806)"/><text x="9.17" y="0" font-size="16.5">0</text></g><text x="269.90" y="470.70" font-size="10">-3</text>
<g transform="translate(390.22,478.10) scale(0.95,1)"><path d="M763 0L583 0L583 1147Q518 1085 412.5 1023Q307 961 223 930L223 1104Q374 1175 487 1276Q600 1377 647 1472L763 1472Z" transform="translate(0.00,0.00) scale(0.00806,-0.00806)"/><text x="9.17" y="0" font-size="16.5">0</text></g><text x="408.57" y="470.70" font-size="10">-2</text>
<g transform="translate(528.89,478.10) scale(0.95,1)"><path d="M763 0L583 0L583 1147Q518 1085 412.5 1023Q307 961 223 930L223 1104Q374 1175 487 1276Q600 1377 647 1472L763 1472Z" transform="translate(0.00,0.00) scale(0.00806,-0.00806)"/><text x="9.17" y="0" font-size="16.5">0</text></g><text x="547.24" y="470.70" font-size="10">-</text><path d="M763 0L583 0L583 1147Q518 1085 412.5 1023Q307 961 223 930L223 1104Q374 1175 487 1276Q600 1377 647 1472L763 1472Z" transform="translate(550.57,470.70) scale(0.00488,-0.00488)"/>
<text x="366.8" y="507.4" text-anchor="middle" font-size="20">error rate p</text>
<text transform="translate(82.4,256.2) rotate(-90)" text-anchor="middle" font-size="20">Average memory lifetime (a.u.)</text>
<rect x="547.50" y="71.30" width="7.4" height="7.4" fill="#000"/>
<circle cx="551.20" cy="94.00" r="4.2" fill="#f00"/>
<path d="M551.20,107.80 L556.60,116.80 L545.80,116.80Z" fill="#00f"/>
<path d="M551.20,139.10 L556.60,130.10 L545.80,130.10Z" fill="#f0f"/>
<g transform="translate(573.5,80) scale(0.95,1)"><text x="0" y="0" font-size="16">n =</text><path d="M763 0L583 0L583 1147Q518 1085 412.5 1023Q307 961 223 930L223 1104Q374 1175 487 1276Q600 1377 647 1472L763 1472Z" transform="translate(27.14,0.00) scale(0.00781,-0.00781)"/></g>
<g transform="translate(573.5,99.3) scale(0.95,1)"><text x="0" y="0" font-size="16">n = 2</text></g>
<g transform="translate(573.5,118.6) scale(0.95,1)"><text x="0" y="0" font-size="16">n = 3</text></g>
<g transform="translate(573.5,137.9) scale(0.95,1)"><text x="0" y="0" font-size="16">n = 4</text></g>
</g>
</svg>
</body></html>
